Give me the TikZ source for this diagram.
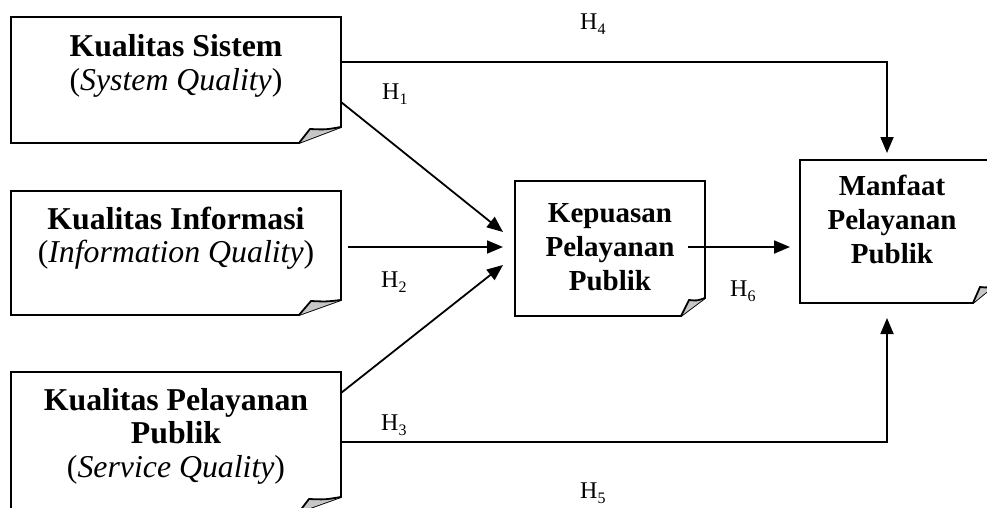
\documentclass[tikz,border=0pt]{standalone}
\usepackage{fontspec}
\setmainfont{Liberation Serif}
\usetikzlibrary{arrows.meta,calc}

% text sizes: large boxes on the left, smaller ones on the right
\newcommand\leftsz{\fontsize{31.8}{33.5}\selectfont}
\newcommand\rightsz{\fontsize{29}{34}\selectfont}
% hypothesis label H with a lowered index
\newcommand\hyp[1]{H\raisebox{-5pt}{\fontsize{16}{16}\selectfont #1}}

% outline of a box with a turned-up bottom-right corner
% #1 node, #2 cut width, #3 cut height, #4 flap tip x, #5 flap tip y (from the corner)
\newcommand\dogear[5]{%
  \draw[boxline] (#1.north west) -- (#1.north east)
     -- ($(#1.south east)+(0,-#3)$) -- ($(#1.south east)+(-#2,0)$)
     -- (#1.south west) -- cycle;
  \filldraw[boxline, fill=gray!45] ($(#1.south east)+(-#2,0)$)
     -- ($(#1.south east)+(-#4,-#5)$)
     .. controls ($(#1.south east)+(-#4*0.5,-#5*0.95)$) .. ($(#1.south east)+(0,-#3)$);
}

\begin{document}
\begin{tikzpicture}[x=1pt,y=-1pt,
  boxline/.style={line width=1.8pt, line join=miter},
  frame/.style={draw=none, inner sep=0pt, outer sep=0pt},
  leftlbl/.style={align=center, font=\leftsz, inner sep=0pt},
  rightlbl/.style={align=center, font=\rightsz\bfseries, inner sep=0pt},
  hlbl/.style={anchor=base west, inner sep=0pt, font=\fontsize{24}{24}\selectfont},
  link/.style={line width=1.8pt, -{Triangle[length=16pt,width=13pt]}}]

\path[use as bounding box] (0,0) rectangle (987,508);

% box frames
\node[frame, minimum width=330pt, minimum height=126pt] (sys) at (176,80) {};
\node[frame, minimum width=330pt, minimum height=124pt] (inf) at (176,253) {};
\node[frame, minimum width=330pt, minimum height=140pt] (srv) at (176,442) {};
\node[frame, minimum width=190pt, minimum height=135pt] (kep) at (610,248.5) {};
\node[frame, minimum width=195pt, minimum height=143pt] (man) at (897.5,231.5) {};

\dogear{sys}{42}{16}{31}{14}
\dogear{inf}{42}{15}{30}{14}
\dogear{srv}{42}{15}{32}{13}
\dogear{kep}{24}{18}{16}{16}
\dogear{man}{22}{18}{15}{16}

% box texts
\node[leftlbl] (syst) at (176,66) {\textbf{Kualitas Sistem}\\(\textit{System Quality})};
\node[leftlbl] (inft) at (176,238) {\textbf{Kualitas Informasi}\\(\textit{Information Quality})};
\node[leftlbl] (srvt) at (176,436) {\textbf{Kualitas Pelayanan}\\\textbf{Publik}\\(\textit{Service Quality})};
\node[rightlbl] (kept) at (610,247) {Kepuasan\\Pelayanan\\Publik};
\node[rightlbl] (mant) at (892,219) {Manfaat\\Pelayanan\\Publik};

% paths between the constructs
\draw[link] (sys.east |- 0,102) -- ($(kep.west |- 0,232)+(-12,0)$);
\draw[link] ($(inf.east |- 0,247)+(7,0)$) -- ($(kep.west |- 0,247)+(-12,0)$);
\draw[link] (srv.east |- 0,393) -- ($(kep.west |- 0,265)+(-12,0)$);
\draw[link] (sys.east |- 0,62) -| ($(man.north -| 887,0)+(0,-7)$);
\draw[link] (srv.east |- 0,442) -| ($(man.south -| 887,0)+(0,15)$);
\draw[link] ($(kep.east |- 0,247)+(-17,0)$) -- ($(man.west |- 0,247)+(-10,0)$);

% hypothesis labels
\node[hlbl] (h4) at (580,30) {\hyp{4}};
\node[hlbl] (h1) at (382,100) {\hyp{1}};
\node[hlbl] (h2) at (381,287) {\hyp{2}};
\node[hlbl] (h6) at (730,296) {\hyp{6}};
\node[hlbl] (h3) at (381,430) {\hyp{3}};
\node[hlbl] (h5) at (580,498) {\hyp{5}};
\end{tikzpicture}
\end{document}
